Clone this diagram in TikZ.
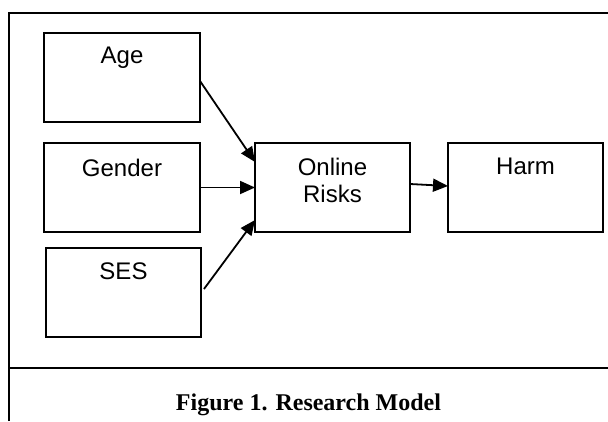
\documentclass[tikz,border=0pt]{standalone}
\usepackage{fontspec}
\setmainfont{Liberation Sans}
\newfontfamily\captionserif{Liberation Serif}
\usetikzlibrary{arrows.meta}

\tikzset{
  x=1pt, y=-1pt,
  frameline/.style={line width=2.2pt},
  sepline/.style={line width=1.5pt},
  varbox/.style={draw, line width=2pt, minimum width=156pt, minimum height=89pt,
                 inner sep=0pt, outer sep=0pt},
  boxtext/.style={anchor=north, inner sep=0pt, align=center,
                  font=\fontsize{24}{27}\selectfont},
  link/.style={line width=1.8pt, -{Triangle[length=15pt,width=13pt]}},
  captiontext/.style={anchor=base, inner sep=0pt,
                      font=\captionserif\bfseries\fontsize{24}{28}\selectfont}
}

\begin{document}
\begin{tikzpicture}
  \useasboundingbox (0,0) rectangle (608,421);

  % outer frame and caption separator
  \draw[frameline] (9,421) -- (9,13) -- (608,13);
  \draw[sepline] (9,368) -- (608,368);

  % variable boxes
  \node[varbox] (age)    at (122,77.5)   {};
  \node[varbox] (gender) at (122,187.5)  {};
  \node[varbox, minimum width=155pt] (ses) at (123.5,292.5) {};
  \node[varbox, minimum width=155pt] (online) at (332.5,187.5) {};
  \node[varbox, minimum width=155pt] (harm)   at (525.5,187.5) {};

  % box labels
  \node[boxtext] (agelbl)    at ([yshift=-14pt]age.north)    {Age};
  \node[boxtext] (genderlbl) at ([yshift=-16pt]gender.north) {Gender};
  \node[boxtext] (seslbl)    at ([yshift=-15pt]ses.north)    {SES};
  \node[boxtext] (onlinelbl) at ([yshift=-15pt]online.north) {Online\\Risks};
  \node[boxtext] (harmlbl)   at ([yshift=-15pt]harm.north)   {Harm};

  % paths of the model
  \draw[link] ([yshift=-3.5pt]age.east) -- ([yshift=25.5pt]online.west);
  \draw[link] (gender.east) -- (online.west);
  \draw[link] ([xshift=3pt,yshift=3.5pt]ses.east) -- ([yshift=-32.5pt]online.west);
  \draw[link] ([yshift=3.5pt]online.east) -- ([yshift=1.5pt]harm.west);

  % caption
  \node[captiontext] (caption) at (308.5,410) {Figure 1. Research Model};
\end{tikzpicture}
\end{document}
